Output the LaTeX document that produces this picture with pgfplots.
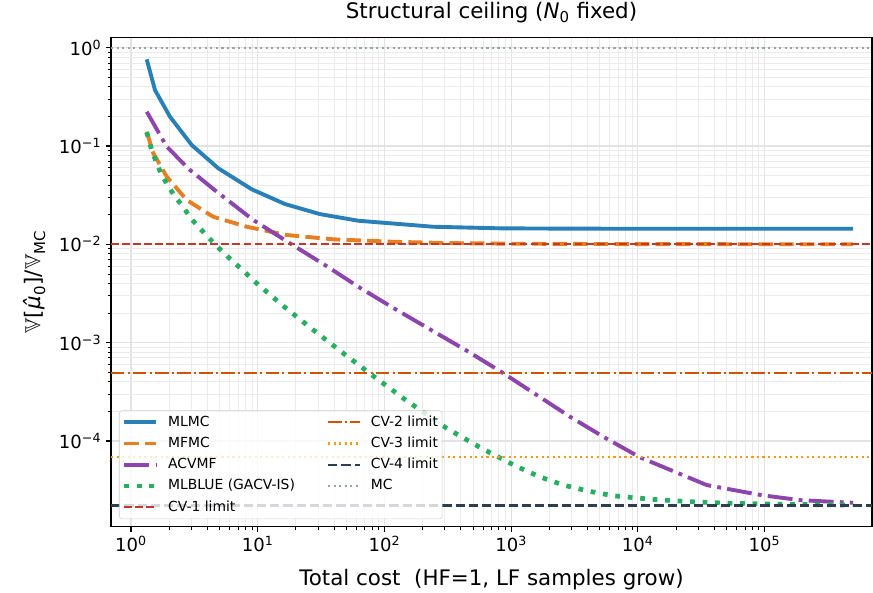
\documentclass[border=0pt]{standalone}
\usepackage{amssymb}
\usepackage{fontspec}
\setmainfont{DejaVu Sans}
\usepackage{pgfplots}
\pgfplotsset{compat=1.18}

\definecolor{cMLMC}{HTML}{2980B9}
\definecolor{cMFMC}{HTML}{E67E22}
\definecolor{cACV}{HTML}{8E44AD}
\definecolor{cBLUE}{HTML}{27AE60}
\definecolor{cCVa}{HTML}{C0392B}
\definecolor{cCVb}{HTML}{D35400}
\definecolor{cCVc}{HTML}{F39C12}
\definecolor{cCVd}{HTML}{2C3E50}
\definecolor{cMC}{HTML}{95A5A6}

\newcommand{\tp}[1]{10\textsuperscript{#1}}

% line styles
\tikzset{
  mlmc/.style={cMLMC, line width=2.8pt, line join=round},
  mfmc/.style={cMFMC, line width=2.8pt, line join=round, dash pattern=on 10.36pt off 4.48pt},
  acvmf/.style={cACV, line width=2.8pt, line join=round, dash pattern=on 17.92pt off 4.48pt on 2.8pt off 4.48pt},
  mlblue/.style={cBLUE, line width=3.4pt, line join=round, dash pattern=on 3.4pt off 5.6pt},
  cva/.style={cCVa, line width=1.5pt, dash pattern=on 5.55pt off 2.4pt},
  cvb/.style={cCVb, line width=1.5pt, dash pattern=on 9.6pt off 2.4pt on 1.5pt off 2.4pt},
  cvc/.style={cCVc, line width=1.5pt, dash pattern=on 1.5pt off 2.475pt},
  cvd/.style={cCVd, line width=1.8pt, dash pattern=on 6.66pt off 2.88pt},
  mc/.style={cMC, line width=1.5pt, dash pattern=on 1.5pt off 2.475pt},
}

\begin{document}
\begin{tikzpicture}
\begin{axis}[
  scale only axis,
  width=547.9pt, height=352.4pt,
  xmode=log, ymode=log,
  xmin=0.695, xmax=7.05e5,
  ymin=1.34e-5, ymax=1.276,
  xtick={1,10,100,1000,10000,100000},
  xticklabels={\tp{0},\tp{1},\tp{2},\tp{3},\tp{4},\tp{5}},
  ytick={1e-4,1e-3,1e-2,1e-1,1},
  yticklabels={\tp{−4},\tp{−3},\tp{−2},\tp{−1},\tp{0}},
  tick align=outside,
  tick pos=left,
  major tick length=3.5pt,
  minor tick length=2pt,
  tick style={black, line width=0.8pt},
  minor tick style={black, line width=0.6pt},
  grid=both,
  major grid style={black!11, line width=0.8pt},
  minor grid style={black!8, line width=0.6pt},
  axis line style={line width=0.8pt},
  ticklabel style={font=\fontsize{13}{15}\selectfont},
  label style={font=\fontsize{15.4}{18}\selectfont},
  xlabel={Total cost\ \ (HF=1, LF samples grow)},
  ylabel={$\mathbb{V}$[\textit{μ̂}\textsubscript{0}]/$\mathbb{V}$\textsubscript{MC}},
  xlabel style={at={(axis description cs:0.5,-0.1192)}, anchor=base},
  ylabel style={at={(axis description cs:-0.1005,0.5)}, anchor=center},
  title={Structural ceiling (\textit{N}\textsubscript{0} fixed)},
  title style={at={(axis description cs:0.5,1.0216)}, anchor=base,
    font=\fontsize{15.4}{18}\selectfont},
  legend columns=2,
  legend image code/.code={\draw[#1] (0pt,0pt) -- (22.8pt,0pt);},
  legend style={
    at={(axis description cs:0.0105,0.0157)}, anchor=south west,
    font=\fontsize{10}{12}\selectfont,
    draw=black!20, rounded corners=2pt,
    fill=white, fill opacity=0.8, draw opacity=1, text opacity=1,
    inner xsep=2pt, inner ysep=2.4pt,
    row sep=3.5pt,
    nodes={inner sep=1pt, text height=7.6pt, text depth=2.2pt},
    cells={anchor=west},
    /tikz/every odd column/.append style={column sep=6pt},
    /tikz/every even column/.append style={column sep=22pt},
  },
]

% estimators
\addplot[mlmc, forget plot] coordinates {
  (1.33,0.762) (1.546,0.371) (2.03,0.1987) (3.015,0.1023) (4.89,0.0593)
  (8.97,0.0363) (16.4,0.0257) (31.0,0.0203) (62.2,0.01738) (132.7,0.01607)
  (242,0.0151) (817,0.01455) (3162,0.01443) (31623,0.01441) (5e5,0.01441)
};
\addplot[mfmc, forget plot] coordinates {
  (1.33,0.1397) (1.50,0.0843) (1.914,0.0488) (2.754,0.0282) (4.44,0.0191)
  (8.19,0.0151) (16.9,0.01244) (39.3,0.01125) (117,0.01062) (316,0.0103)
  (1000,0.01015) (10000,0.01005) (5e5,0.01001)
};
\addplot[acvmf, forget plot] coordinates {
  (1.33,0.2234) (1.914,0.0984) (2.92,0.057) (4.75,0.0343) (9.23,0.01767)
  (17.99,0.01023) (33.97,0.00615) (64.2,0.00361) (121.3,0.0022) (229,0.001365)
  (446.6,8.28e-4) (832,5.06e-4) (1563,2.98e-4) (2917,1.762e-4) (5510,1.078e-4)
  (10400,6.81e-5) (34990,3.56e-5) (94400,2.81e-5) (1.91e5,2.5e-5) (5e5,2.35e-5)
};
\addplot[mlblue, forget plot] coordinates {
  (1.33,0.138) (1.456,0.091) (1.595,0.0667) (1.746,0.0507) (1.968,0.0392)
  (2.224,0.0305) (2.588,0.0241) (2.92,0.0188) (3.44,0.0149) (4.03,0.01194)
  (4.75,0.0096) (5.62,0.00778) (6.62,0.00641) (7.94,0.00519) (9.29,0.00427)
  (15.92,0.002355) (27.5,0.001343) (48.3,7.65e-4) (84.3,4.44e-4) (147.3,2.61e-4)
  (310.5,1.343e-4) (586,8.41e-5) (1087,5.56e-5) (1671,4.33e-5) (2585,3.56e-5)
  (4067,3.09e-5) (6412,2.77e-5) (12880,2.55e-5) (25820,2.41e-5) (53460,2.32e-5)
  (1.679e5,2.26e-5) (5e5,2.23e-5)
};

% control-variate limits and plain Monte Carlo
\addplot[cva, forget plot] coordinates {(0.695,0.01) (7.05e5,0.01)};
\addplot[cvb, forget plot] coordinates {(0.695,4.91e-4) (7.05e5,4.91e-4)};
\addplot[cvc, forget plot] coordinates {(0.695,6.81e-5) (7.05e5,6.81e-5)};
\addplot[cvd, forget plot] coordinates {(0.695,2.21e-5) (7.05e5,2.21e-5)};
\addplot[mc, forget plot] coordinates {(0.695,1) (7.05e5,1)};

% legend, filled row by row
\addlegendimage{mlmc}   \addlegendentry{MLMC}
\addlegendimage{cvb}    \addlegendentry{CV-2 limit}
\addlegendimage{mfmc}   \addlegendentry{MFMC}
\addlegendimage{cvc}    \addlegendentry{CV-3 limit}
\addlegendimage{acvmf}  \addlegendentry{ACVMF}
\addlegendimage{cvd}    \addlegendentry{CV-4 limit}
\addlegendimage{mlblue} \addlegendentry{MLBLUE (GACV-IS)}
\addlegendimage{mc}     \addlegendentry{MC}
\addlegendimage{cva}    \addlegendentry{CV-1 limit}
\end{axis}
\pgfresetboundingbox
\useasboundingbox ([shift={(-79.92pt,-47pt)}]current axis.south west)
  rectangle ([shift={(0.72pt,26.86pt)}]current axis.north east);
\end{tikzpicture}
\end{document}
